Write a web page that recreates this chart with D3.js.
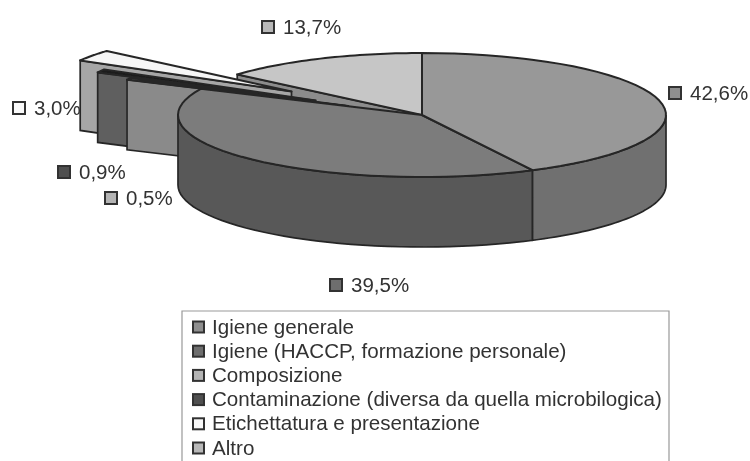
<!DOCTYPE html>
<html>
<head>
<meta charset="utf-8">
<script src="https://cdnjs.cloudflare.com/ajax/libs/d3/7.8.5/d3.min.js"></script>
<style>
  html, body { margin: 0; padding: 0; background: #fff; }
  text { font-family: "Liberation Sans", Arial, sans-serif; fill: #333; }
</style>
</head>
<body>
<script>
// values
const categories = [
  "Igiene generale",
  "Igiene (HACCP, formazione personale)",
  "Composizione",
  "Contaminazione (diversa da quella microbilogica)",
  "Etichettatura e presentazione",
  "Altro"
];
const values = [42.6, 39.5, 0.5, 0.9, 3.0, 13.7];
const valueLabels = ["42,6%", "39,5%", "0,5%", "0,9%", "3,0%", "13,7%"];

// styles, one per slice
const topColors = ["#989898", "#7c7c7c", "#a8a8a8", "#1e1e1e", "#f6f6f6", "#c6c6c6"];
const wallColors = ["#707070", "#585858", "#8a8a8a", "#5e5e5e", "#a6a6a6", "#8c8c8c"];
const swatchColors = ["#8e8e8e", "#6e6e6e", "#b4b4b4", "#505050", "#fafafa", "#b8b8b8"];
// how far each slice is pulled out of the pie, in pie radii
const explode = [0, 0, 0.336, 0.496, 0.656, 0];
// label anchor (square left edge, text middle)
const labelX = [669, 330, 105, 58, 13, 262];
const labelY = [93, 285, 198, 172, 108, 27];

const width = 750;
const height = 461;
const rx = 244;
const ry = 62;
const depth = 70;
const outline = "#262626";

const svg = d3.select("body").append("svg")
    .attr("width", width)
    .attr("height", height)
    .style("display", "block");

const defs = svg.append("defs");
defs.append("filter").attr("id", "scan")
    .append("feGaussianBlur").attr("stdDeviation", 0.55);

const root = svg.append("g").attr("filter", "url(#scan)");

// unit pie space onto the tilted ellipse
const xScale = d3.scaleLinear().domain([-1, 1]).range([422 - rx, 422 + rx]);
const yScale = d3.scaleLinear().domain([-1, 1]).range([115 - ry, 115 + ry]);

const slices = d3.pie().sort(null).startAngle(0).endAngle(2 * Math.PI)(values);

const line = d3.line();

const pt = (angle, r, ox, oy) => [
  xScale(r * Math.sin(angle) + ox),
  yScale(-r * Math.cos(angle) + oy)
];

const arcPoints = (a0, a1, ox, oy) =>
  d3.range(0, 41).map((i) => pt(a0 + (a1 - a0) * i / 40, 1, ox, oy));

const down = (p) => [p[0], p[1] + depth];

// draw back to front: last slices first, the pie body on top
slices.slice().reverse().forEach((s) => {
  const mid = (s.startAngle + s.endAngle) / 2;
  const e = explode[s.index];
  const ox = e * Math.sin(mid);
  const oy = -e * Math.cos(mid);
  const apex = pt(0, 0, ox, oy);
  const g = root.append("g");

  // side cut, only when it faces the viewer
  if (Math.sin(s.startAngle) < 0) {
    const p = pt(s.startAngle, 1, ox, oy);
    g.append("path")
        .attr("d", line([p, apex, down(apex), down(p)]) + "Z")
        .attr("fill", wallColors[s.index])
        .attr("stroke", outline)
        .attr("stroke-width", 1.7);
  }

  // rim, the part of the arc on the near side
  const a0 = Math.max(s.startAngle, Math.PI / 2);
  const a1 = Math.min(s.endAngle, 3 * Math.PI / 2);
  if (a1 > a0) {
    const rim = arcPoints(a0, a1, ox, oy);
    g.append("path")
        .attr("d", line(rim.concat(rim.map(down).reverse())) + "Z")
        .attr("fill", wallColors[s.index])
        .attr("stroke", outline)
        .attr("stroke-width", 1.7);
  }

  // top
  g.append("path")
      .attr("d", line([apex].concat(arcPoints(s.startAngle, s.endAngle, ox, oy))) + "Z")
      .attr("fill", topColors[s.index])
      .attr("stroke", outline)
      .attr("stroke-width", 2)
      .attr("stroke-linejoin", "round");
});

// data labels
const labels = root.append("g").selectAll("g")
    .data(valueLabels)
    .enter()
    .append("g")
    .attr("transform", (d, i) => "translate(" + labelX[i] + "," + labelY[i] + ")");

labels.append("rect")
    .attr("y", -6)
    .attr("width", 12)
    .attr("height", 12)
    .attr("fill", (d, i) => swatchColors[i])
    .attr("stroke", "#333")
    .attr("stroke-width", 2);

labels.append("text")
    .attr("x", 21)
    .attr("y", 7)
    .attr("font-size", 20.5)
    .text((d) => d);

// legend, its box runs off the bottom of the picture
root.append("path")
    .attr("d", line([[182, 461], [182, 311], [669, 311], [669, 461]]))
    .attr("fill", "none")
    .attr("stroke", "#999")
    .attr("stroke-width", 1.2);

const legendY = d3.scalePoint()
    .domain(categories)
    .range([327, 448]);

const legend = root.append("g").selectAll("g")
    .data(categories)
    .enter()
    .append("g")
    .attr("transform", (d) => "translate(193," + legendY(d) + ")");

legend.append("rect")
    .attr("y", -5.5)
    .attr("width", 11)
    .attr("height", 11)
    .attr("fill", (d, i) => swatchColors[i])
    .attr("stroke", "#333")
    .attr("stroke-width", 2);

legend.append("text")
    .attr("x", 19)
    .attr("y", 6.5)
    .attr("font-size", 20.6)
    .text((d) => d);
</script>
</body>
</html>
